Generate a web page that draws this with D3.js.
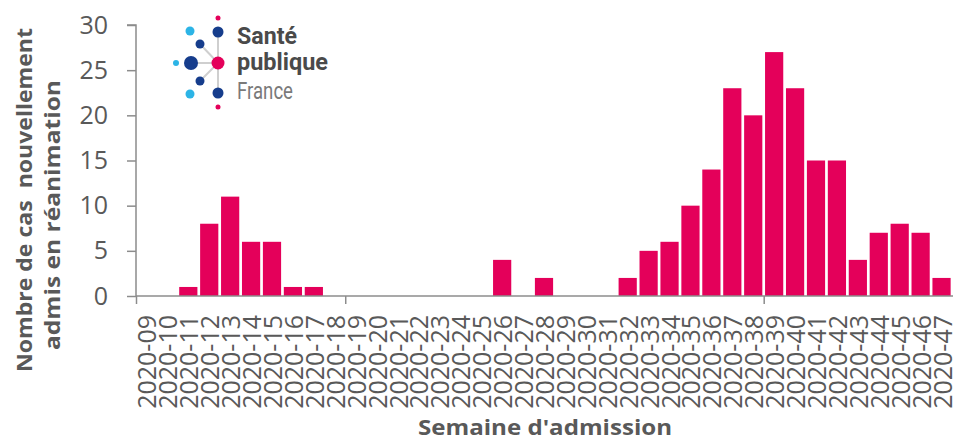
<!DOCTYPE html>
<html>
<head>
<meta charset="utf-8">
<script src="https://cdn.jsdelivr.net/npm/d3@7"></script>
<style>
  html, body { margin: 0; padding: 0; background: #fff; }
  svg { display: block; }
</style>
</head>
<body>
<svg id="chart" width="958" height="441"></svg>
<script>
const weeks = ["2020-09","2020-10","2020-11","2020-12","2020-13","2020-14","2020-15","2020-16","2020-17","2020-18",
  "2020-19","2020-20","2020-21","2020-22","2020-23","2020-24","2020-25","2020-26","2020-27","2020-28",
  "2020-29","2020-30","2020-31","2020-32","2020-33","2020-34","2020-35","2020-36","2020-37","2020-38",
  "2020-39","2020-40","2020-41","2020-42","2020-43","2020-44","2020-45","2020-46","2020-47"];
const cases = [0,0,1,8,11,6,6,1,1,0,
  0,0,0,0,0,0,0,4,0,2,
  0,0,0,2,5,6,10,14,23,20,
  27,23,15,15,4,7,8,7,2];
const yTicks = [0,5,10,15,20,25,30];
const xTickBoundaries = [0,10,30];
const yTitleLines = ["Nombre de cas\u00a0 nouvellement", "admis en réanimation"];
const xTitle = "Semaine d'admission";

const svg = d3.select("#chart");
const textColor = "#595959";
const axisColor = "#8c8c8c";
const barColor = "#E4005A";

const x = d3.scaleBand().domain(weeks).range([136, 952]).paddingInner(0.13).paddingOuter(0.065);
const y = d3.scaleLinear().domain([0, 30]).range([296, 25]);

// bars
svg.append("g").selectAll("rect").data(weeks.map((w,i)=>({w, v: cases[i]})).filter(d=>d.v>0))
  .join("rect")
  .attr("x", d => x(d.w))
  .attr("width", x.bandwidth())
  .attr("y", d => y(d.v))
  .attr("height", d => y(0) - y(d.v))
  .attr("fill", barColor);

// y axis
const yAxis = svg.append("g").attr("transform", "translate(136,0)")
  .call(d3.axisLeft(y).tickValues(yTicks).tickSize(9).tickPadding(19).tickFormat(d3.format("d")));
yAxis.select(".domain").attr("stroke", axisColor).attr("stroke-width", 1.5)
  .attr("d", `M-9,${y(30)}H0V${y(0)}`);
yAxis.selectAll(".tick line").attr("stroke", axisColor).attr("stroke-width", 1.5);
yAxis.selectAll(".tick text").attr("fill", textColor)
  .style("font-family", "'Open Sans', sans-serif").style("font-size", "25px");

// x axis
const xAxis = svg.append("g").attr("transform", `translate(0,${y(0)})`)
  .call(d3.axisBottom(x).tickSize(0).tickPadding(0));
xAxis.select(".domain").attr("stroke", axisColor).attr("stroke-width", 1.5)
  .attr("d", `M136,0H953`);
xAxis.selectAll(".tick text")
  .attr("fill", textColor)
  .style("font-family", "'Open Sans', sans-serif").style("font-size", "25px")
  .attr("text-anchor", "end")
  .attr("dominant-baseline", "central")
  .attr("dy", null)
  .attr("y", 0)
  .attr("transform", "translate(0,19) rotate(-90)");
const step = x.step();
const left = x.range()[0];
xAxis.selectAll(".bnd").data(xTickBoundaries).join("line")
  .attr("class", "bnd")
  .attr("x1", d => left + 0.5 + d * step)
  .attr("x2", d => left + 0.5 + d * step)
  .attr("y1", 0).attr("y2", 8)
  .attr("stroke", axisColor).attr("stroke-width", 1.5);

// axis titles
svg.append("text")
  .attr("transform", "translate(32,200) rotate(-90)")
  .attr("text-anchor", "middle")
  .attr("fill", textColor)
  .style("font-family", "'Open Sans', sans-serif").style("font-size", "22px").style("font-weight", "bold")
  .attr("textLength", 344).attr("lengthAdjust", "spacingAndGlyphs")
  .text(yTitleLines[0]);
svg.append("text")
  .attr("transform", "translate(60,215) rotate(-90)")
  .attr("text-anchor", "middle")
  .attr("fill", textColor)
  .style("font-family", "'Open Sans', sans-serif").style("font-size", "22px").style("font-weight", "bold")
  .attr("textLength", 270).attr("lengthAdjust", "spacingAndGlyphs")
  .text(yTitleLines[1]);
svg.append("text")
  .attr("x", 545).attr("y", 435)
  .attr("text-anchor", "middle")
  .attr("fill", textColor)
  .style("font-family", "'Open Sans', sans-serif").style("font-size", "22px").style("font-weight", "bold")
  .attr("textLength", 254).attr("lengthAdjust", "spacingAndGlyphs")
  .text(xTitle);

// logo
const logo = svg.append("g");
const navy = "#163d8c", lblue = "#2cb4e6", pink = "#E4005A", lgray = "#cfcfcf";
[[191,63,218,63],[200,44,218,63],[200,81,218,63],[218,32,218,93]].forEach(l => {
  logo.append("line").attr("x1", l[0]).attr("y1", l[1]).attr("x2", l[2]).attr("y2", l[3])
    .attr("stroke", lgray).attr("stroke-width", 2);
});
[[218,18,2.5,pink],[218,32,5.5,navy],[190,31,4.5,lblue],[200,44,4.5,navy],[176,63,3,lblue],
 [191,63,7,navy],[218,63,6.5,pink],[200,81,4.5,navy],[190,94,4.5,lblue],[218,93,5.5,navy],[218,107,2.5,pink]]
 .forEach(c => logo.append("circle").attr("cx", c[0]).attr("cy", c[1]).attr("r", c[2]).attr("fill", c[3]));
logo.append("text").attr("x", 237).attr("y", 44).text("Santé")
  .attr("fill", "#4a4a4a").style("font-family", "Roboto, sans-serif").style("font-size", "24px").style("font-weight", "bold")
  .attr("textLength", 60).attr("lengthAdjust", "spacingAndGlyphs");
logo.append("text").attr("x", 237).attr("y", 70).text("publique")
  .attr("fill", "#4a4a4a").style("font-family", "Roboto, sans-serif").style("font-size", "24px").style("font-weight", "bold")
  .attr("textLength", 91).attr("lengthAdjust", "spacingAndGlyphs");
logo.append("text").attr("x", 237).attr("y", 99).text("France")
  .attr("fill", "#7a7a7a").style("font-family", "Roboto, sans-serif").style("font-size", "24px")
  .attr("textLength", 56).attr("lengthAdjust", "spacingAndGlyphs");
</script>
</body>
</html>
